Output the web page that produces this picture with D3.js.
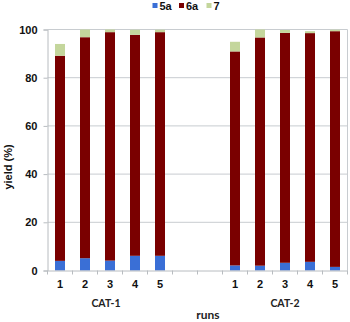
<!DOCTYPE html>
<html><head><meta charset="utf-8">
<script src="https://cdn.jsdelivr.net/npm/d3@7"></script>
<style>body{margin:0;background:#fff}svg{display:block}</style>
</head><body>
<svg id="c" width="350" height="322"></svg>
<script>
const slots = ["c1r1","c1r2","c1r3","c1r4","c1r5","g1","g2","c2r1","c2r2","c2r3","c2r4","c2r5"];
const runLabels = ["1","2","3","4","5","","","1","2","3","4","5"];
const groups = ["CAT-1","CAT-2"];
const groupSlots = [["c1r1","c1r2","c1r3","c1r4","c1r5"],["c2r1","c2r2","c2r3","c2r4","c2r5"]];
const barSlots = ["c1r1","c1r2","c1r3","c1r4","c1r5","c2r1","c2r2","c2r3","c2r4","c2r5"];
const series = ["5a","6a","7"];
const v5a = [4.0, 5.1, 4.1, 6.1, 6.1, 2.1, 2.0, 3.2, 3.6, 1.5];
const v6a = [85.1, 91.7, 94.8, 91.7, 92.8, 88.8, 94.7, 95.4, 94.9, 97.8];
const v7  = [4.9, 3.2, 1.1, 2.1, 1.0, 4.0, 3.3, 1.2, 0.8, 0.6];
const yTicks = [0,20,40,60,80,100];
const colors = ["#3a6fd6","#7a0000","#c4d69c"];

const svg = d3.select("#c");
const L = 47.5, R = 347.5, T = 29.5, B = 270.5;
const x = d3.scaleBand().domain(slots).range([L,R]).padding(0);
const y = d3.scaleLinear().domain([0,100]).range([B,T]);
const bw = 10;

// gridlines
svg.append("g").selectAll("line").data(yTicks.filter(d=>d>0)).join("line")
  .attr("x1",L).attr("x2",R).attr("y1",d=>y(d)).attr("y2",d=>y(d))
  .attr("stroke","#c8ccd0").attr("stroke-width",1);
// right border
svg.append("line").attr("x1",R).attr("x2",R).attr("y1",T).attr("y2",B).attr("stroke","#c8ccd0");

// stacked data
const rows = barSlots.map((s,i)=>({slot:s, "5a":v5a[i], "6a":v6a[i], "7":v7[i]}));
const stack = d3.stack().keys(series)(rows);
svg.append("g").selectAll("g").data(stack).join("g")
  .attr("fill",(d,i)=>colors[i])
  .selectAll("rect").data(d=>d).join("rect")
  .attr("x",d=>x(d.data.slot)+x.bandwidth()/2-bw/2)
  .attr("width",bw)
  .attr("y",d=>y(d[1]))
  .attr("height",d=>y(d[0])-y(d[1]));

// y axis
const ya = d3.axisLeft(y).tickValues(yTicks).tickSize(4).tickPadding(6);
const gy = svg.append("g").attr("transform",`translate(${L},0)`).call(ya);
gy.select(".domain").attr("stroke","#b8bcc0");
gy.selectAll(".tick line").attr("stroke","#b8bcc0");
gy.selectAll("text").attr("font-family","Liberation Sans, Arial, sans-serif")
  .attr("font-weight","bold").attr("font-size",11).attr("fill","#111");

// x axis
const xa = d3.axisBottom(x).tickFormat((d,i)=>runLabels[i]).tickSize(0).tickPadding(10);
const gx = svg.append("g").attr("transform",`translate(0,${B})`).call(xa);
gx.select(".domain").attr("stroke","#b8bcc0");
gx.selectAll("text").attr("font-family","Liberation Sans, Arial, sans-serif")
  .attr("font-weight","bold").attr("font-size",11).attr("fill","#111");
// slot boundary ticks
gx.append("g").selectAll("line").data(slots.concat(["end"])).join("line")
  .attr("x1",(d,i)=>L+i*x.step()).attr("x2",(d,i)=>L+i*x.step())
  .attr("y1",0).attr("y2",4).attr("stroke","#b8bcc0");

// group labels
svg.append("g").selectAll("text").data(groups).join("text")
  .attr("x",(d,i)=>d3.mean(groupSlots[i],s=>x(s)+x.bandwidth()/2) - (i===0?4:0))
  .attr("y",307)
  .attr("text-anchor","middle")
  .attr("font-family","Lato, sans-serif").attr("font-weight","bold").attr("font-size",10.5)
  .attr("fill","#222").text(d=>d);

// axis titles
svg.append("text").attr("x",208).attr("y",319).attr("text-anchor","middle")
  .attr("font-family","Lato, sans-serif").attr("font-weight","bold").attr("font-size",12)
  .attr("fill","#222").text("runs");
svg.append("text").attr("transform","translate(12,167) rotate(-90)").attr("text-anchor","middle")
  .attr("font-family","Liberation Sans, Arial, sans-serif").attr("font-weight","bold").attr("font-size",11)
  .attr("fill","#111").text("yield (%)");

// legend
const legX = [152.5, 179, 206.5];
const lg = svg.append("g").selectAll("g").data(series).join("g")
  .attr("transform",(d,i)=>`translate(${legX[i]},6)`);
lg.append("rect").attr("x",0).attr("y",-3).attr("width",5).attr("height",5).attr("fill",(d,i)=>colors[i]);
lg.append("text").attr("x",7).attr("y",4).attr("font-family","Liberation Sans, Arial, sans-serif")
  .attr("font-weight","bold").attr("font-size",11).attr("fill","#111").text(d=>d);
</script>
</body></html>
